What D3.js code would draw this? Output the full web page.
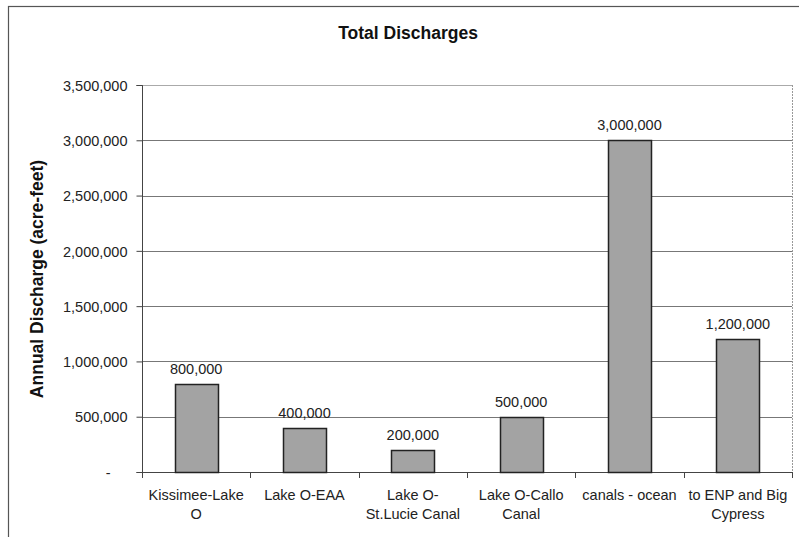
<!DOCTYPE html>
<html>
<head>
<meta charset="utf-8">
<script src="https://cdn.jsdelivr.net/npm/d3@7/dist/d3.min.js"></script>
<style>
  html, body { margin: 0; padding: 0; background: #fff; }
  svg { display: block; font-family: "Liberation Sans", Arial, sans-serif; }
</style>
</head>
<body>
<svg id="chart" width="799" height="537"></svg>
<script>
// Annual discharge by flow path (acre-feet)
const categories = [
  ["Kissimee-Lake", "O"],
  ["Lake O-EAA"],
  ["Lake O-", "St.Lucie Canal"],
  ["Lake O-Callo", "Canal"],
  ["canals - ocean"],
  ["to ENP and Big", "Cypress"]
];
const discharges = [800000, 400000, 200000, 500000, 3000000, 1200000];
const yTicks = [0, 500000, 1000000, 1500000, 2000000, 2500000, 3000000, 3500000];
const chartTitle = "Total Discharges";
const yTitle = "Annual Discharge (acre-feet)";

const svg = d3.select("#chart");
const plot = { left: 142, right: 792, top: 85, bottom: 472 };
const labelSize = "14.5px";

// outer chart frame
svg.append("rect")
  .attr("x", 8.5).attr("y", 6.5)
  .attr("width", 820).attr("height", 560)
  .attr("fill", "#fff").attr("stroke", "#555").attr("stroke-width", 1.2);

const x = d3.scaleBand()
  .domain(d3.range(categories.length))
  .range([plot.left, plot.right])
  .paddingInner(0.6)
  .paddingOuter(0.3);

const y = d3.scaleLinear()
  .domain([0, 3500000])
  .range([plot.bottom, plot.top]);

const fmt = d3.format(",");

// plot area border (right side dotted)
svg.append("line")
  .attr("x1", plot.right + 0.5).attr("x2", plot.right + 0.5)
  .attr("y1", plot.top).attr("y2", plot.bottom)
  .attr("stroke", "#999").attr("stroke-dasharray", "2,1");

// gridlines
svg.append("g")
  .selectAll("line")
  .data(yTicks.filter(d => d > 0))
  .join("line")
  .attr("x1", plot.left).attr("x2", plot.right)
  .attr("y1", d => Math.round(y(d)) + 0.5)
  .attr("y2", d => Math.round(y(d)) + 0.5)
  .attr("stroke", d => d === 3500000 ? "#aaa" : "#777")
  .attr("stroke-width", 1);

// y axis
const yAxis = d3.axisLeft(y)
  .tickValues(yTicks)
  .tickSize(6)
  .tickPadding(9)
  .tickFormat(d => d === 0 ? "-" : fmt(d));

const gy = svg.append("g")
  .attr("transform", `translate(${plot.left + 0.5},0)`)
  .call(yAxis);
gy.select(".domain").attr("stroke", "#444").attr("d", `M-6,${plot.top + 0.5}H0V${plot.bottom + 0.5}H-6`);
gy.selectAll(".tick line").attr("stroke", "#444");
gy.selectAll(".tick text")
  .attr("fill", "#222")
  .style("font-size", labelSize)
  .attr("dy", "0.36em");
gy.selectAll(".tick text").filter(d => d === 0).attr("x", -32);

// x axis baseline with ticks between categories
const gx = svg.append("g");
gx.append("line")
  .attr("x1", plot.left).attr("x2", plot.right + 1)
  .attr("y1", plot.bottom + 0.5).attr("y2", plot.bottom + 0.5)
  .attr("stroke", "#444");
const step = x.step();
gx.selectAll("line.tk")
  .data(d3.range(categories.length + 1))
  .join("line")
  .attr("class", "tk")
  .attr("x1", i => Math.round(plot.left + i * step) + 0.5)
  .attr("x2", i => Math.round(plot.left + i * step) + 0.5)
  .attr("y1", plot.bottom).attr("y2", plot.bottom + 6)
  .attr("stroke", "#444");

// category labels
gx.selectAll("text.cat")
  .data(categories)
  .join("text")
  .attr("class", "cat")
  .attr("text-anchor", "middle")
  .attr("fill", "#222")
  .style("font-size", labelSize)
  .attr("transform", (d, i) => `translate(${x(i) + x.bandwidth() / 2},0)`)
  .selectAll("tspan")
  .data(d => d)
  .join("tspan")
  .attr("x", 0)
  .attr("y", (d, j) => 500 + j * 19)
  .text(d => d);

// bars
svg.append("g")
  .selectAll("rect")
  .data(discharges)
  .join("rect")
  .attr("x", (d, i) => Math.round(x(i)) + 0.5)
  .attr("y", d => Math.round(y(d)) + 0.5)
  .attr("width", Math.round(x.bandwidth()))
  .attr("height", d => Math.round(y(0)) - Math.round(y(d)))
  .attr("fill", "#a3a3a3")
  .attr("stroke", "#222")
  .attr("stroke-width", 1.5);

// value labels
svg.append("g")
  .selectAll("text")
  .data(discharges)
  .join("text")
  .attr("x", (d, i) => x(i) + x.bandwidth() / 2)
  .attr("y", d => y(d) - 10)
  .attr("text-anchor", "middle")
  .attr("fill", "#222")
  .style("font-size", labelSize)
  .text(d => fmt(d));

// titles
svg.append("text")
  .attr("x", 408).attr("y", 39)
  .attr("text-anchor", "middle")
  .attr("fill", "#111")
  .style("font-size", "17.5px")
  .style("font-weight", "bold")
  .text(chartTitle);

svg.append("text")
  .attr("transform", "translate(43,279) rotate(-90)")
  .attr("text-anchor", "middle")
  .attr("fill", "#111")
  .style("font-size", "17.5px")
  .style("font-weight", "bold")
  .text(yTitle);
</script>
</body>
</html>
